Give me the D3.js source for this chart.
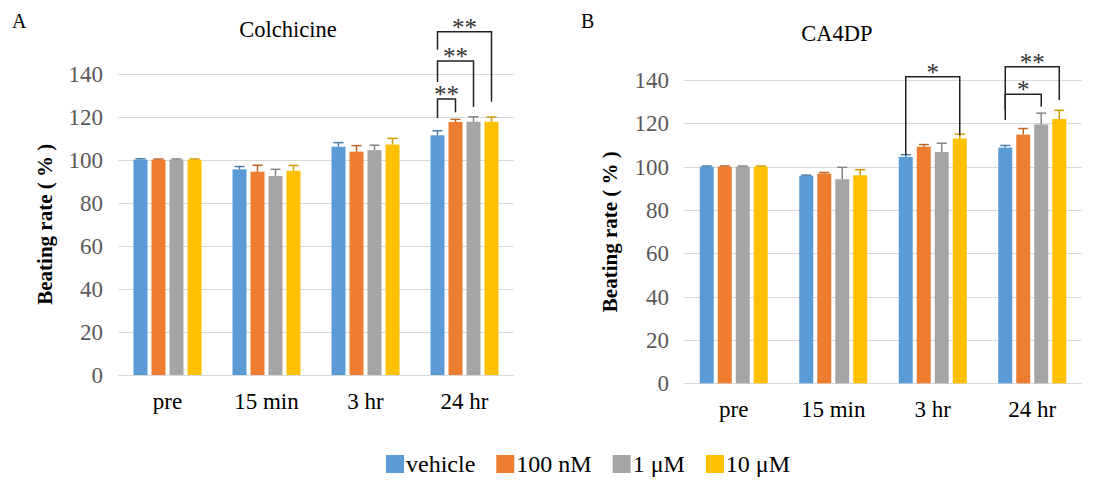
<!DOCTYPE html>
<html>
<head>
<meta charset="utf-8">
<script src="https://cdn.jsdelivr.net/npm/d3@7"></script>
<style>
	html, body { margin: 0; padding: 0; background: #fff; }
	svg text { font-family: 'Liberation Serif', 'DejaVu Serif', serif; }
</style>
</head>
<body>
<div class="chart"></div>
<script>
	// categories / series
	const categories = ['pre', '15 min', '3 hr', '24 hr'];
	const seriesNames = ['vehicle', '100 nM', '1 μM', '10 μM'];
	const colors = ['#5B9BD5', '#ED7D31', '#A5A5A5', '#FFC000'];
	const yTicks = [0, 20, 40, 60, 80, 100, 120, 140];

	// Colchicine (panel A), one row per series
	const colchicineMeans = [
		[100, 95.5, 106, 111.3],
		[100, 94.4, 103.7, 117.5],
		[100, 92.4, 104.4, 117.6],
		[100, 94.8, 107, 117.6],
	];
	const colchicineErrors = [
		[0.4, 1.3, 1.9, 2.1],
		[0.3, 3, 2.8, 1.2],
		[0.3, 3.1, 2.3, 2.3],
		[0.3, 2.5, 2.9, 2.2],
	];
	// [category, from series, to series, left end, top, right end, label]
	const colchicineBrackets = [
		[3, 0, 1, 119.3, 128.2, 122, '**'],
		[3, 0, 2, 136, 145.8, 124.4, '**'],
		[3, 0, 3, 151, 159.4, 126.9, '**'],
	];

	// CA4DP (panel B)
	const ca4dpMeans = [
		[100, 95.8, 104.5, 108.8],
		[100, 96.8, 109.2, 114.8],
		[100, 94.2, 106.8, 119.5],
		[100, 96, 113, 122],
	];
	const ca4dpErrors = [
		[0.3, 0.3, 1, 1],
		[0.3, 0.5, 1, 2.8],
		[0.3, 5.5, 4, 5.2],
		[0.3, 2.6, 2, 4],
	];
	const ca4dpBrackets = [
		[2, 0, 3, 105.4, 141.5, 114.5, '*'],
		[3, 0, 2, 121.5, 133.4, 127.6, '*'],
		[3, 0, 3, 126.1, 146.1, 130.8, '**'],
	];

	const width = 1097;
	const height = 489;
	const serif = "'Liberation Serif', 'DejaVu Serif', serif";

	const svg = d3.select('.chart').append('svg').attr('width', width).attr('height', height)
		.attr('font-family', serif);
	svg.append('rect').attr('width', width).attr('height', height).attr('fill', '#fff');

	function drawPanel(opt) {
		const x0 = d3.scaleBand().domain(categories).range([opt.left, opt.right]);
		const groupW = 68;
		const x1 = d3.scaleBand().domain(seriesNames).range([0, groupW]).paddingInner(4 / 18).paddingOuter(0);
		const y = d3.scaleLinear().domain([0, 140]).range([opt.bottom, opt.top]);
		const g = svg.append('g');
		const off = (x0.bandwidth() - groupW) / 2;
		const barX = (ci, si) => x0(categories[ci]) + off + x1(seriesNames[si]);

		// gridlines
		g.append('g')
			.selectAll('line')
			.data(yTicks)
			.enter()
			.append('line')
			.attr('x1', opt.left)
			.attr('x2', opt.right)
			.attr('y1', d => Math.round(y(d)) + 0.5)
			.attr('y2', d => Math.round(y(d)) + 0.5)
			.attr('stroke', '#D9D9D9')
			.attr('stroke-width', 1);

		// y tick labels
		g.append('g')
			.selectAll('text')
			.data(yTicks)
			.enter()
			.append('text')
			.attr('x', opt.left - 15)
			.attr('y', d => y(d) + 8)
			.attr('text-anchor', 'end')
			.attr('font-family', serif)
			.style('font-size', '23px')
			.attr('fill', '#595959')
			.text(d => d);

		// category labels
		g.append('g')
			.selectAll('text')
			.data(categories)
			.enter()
			.append('text')
			.attr('x', d => x0(d) + x0.bandwidth() / 2)
			.attr('y', opt.bottom + 34)
			.attr('text-anchor', 'middle')
			.attr('font-family', serif)
			.style('font-size', '23px')
			.attr('fill', '#000')
			.text(d => d);

		// bars
		const bars = [];
		opt.means.forEach((row, si) => row.forEach((v, ci) => bars.push({ si, ci, v, e: opt.errors[si][ci] })));
		g.append('g')
			.selectAll('rect')
			.data(bars)
			.enter()
			.append('rect')
			.attr('x', d => barX(d.ci, d.si))
			.attr('width', x1.bandwidth())
			.attr('y', d => y(d.v))
			.attr('height', d => y(0) - y(d.v))
			.attr('fill', d => colors[d.si]);

		// error bars (upper only)
		const err = g.append('g').selectAll('g').data(bars).enter().append('g')
			.attr('stroke', d => d3.color(colors[d.si]).darker(0.6))
			.attr('stroke-width', 1.5);
		err.append('line')
			.attr('x1', d => barX(d.ci, d.si) + x1.bandwidth() / 2)
			.attr('x2', d => barX(d.ci, d.si) + x1.bandwidth() / 2)
			.attr('y1', d => y(d.v))
			.attr('y2', d => y(d.v + d.e));
		err.append('line')
			.attr('x1', d => barX(d.ci, d.si) + x1.bandwidth() / 2 - 5)
			.attr('x2', d => barX(d.ci, d.si) + x1.bandwidth() / 2 + 5)
			.attr('y1', d => y(d.v + d.e))
			.attr('y2', d => y(d.v + d.e));

		// significance brackets
		const br = g.append('g').selectAll('g').data(opt.brackets).enter().append('g');
		br.append('path')
			.attr('fill', 'none')
			.attr('stroke', '#222')
			.attr('stroke-width', 1.5)
			.attr('d', d => {
				const xa = barX(d[0], d[1]) + x1.bandwidth() / 2;
				const xb = barX(d[0], d[2]) + x1.bandwidth() / 2;
				return `M${xa},${y(d[3])}V${y(d[4])}H${xb}V${y(d[5])}`;
			});
		br.append('text')
			.attr('x', d => (barX(d[0], d[1]) + barX(d[0], d[2]) + x1.bandwidth()) / 2)
			.attr('y', d => y(d[4]) + 4)
			.attr('text-anchor', 'middle')
			.attr('font-family', serif)
			.style('font-size', '25px')
			.attr('fill', '#333')
			.text(d => d[6]);

		// axis title
		g.append('text')
			.attr('transform', `translate(${opt.titleX},${(opt.top + opt.bottom) / 2}) rotate(-90)`)
			.attr('text-anchor', 'middle')
			.attr('font-family', serif)
			.style('font-size', '21px')
			.style('font-weight', 'bold')
			.text('Beating rate ( % )');

		// chart title + panel letter
		g.append('text')
			.attr('x', opt.chartTitleX)
			.attr('y', opt.chartTitleY)
			.attr('text-anchor', 'middle')
			.attr('font-family', serif)
			.style('font-size', '22.5px')
			.text(opt.title);
		g.append('text')
			.attr('x', opt.letterX)
			.attr('y', 28)
			.attr('font-family', serif)
			.style('font-size', '20px')
			.text(opt.letter);
	}

	drawPanel({
		left: 118, right: 514, top: 73.5, bottom: 375,
		means: colchicineMeans, errors: colchicineErrors, brackets: colchicineBrackets,
		titleX: 52, title: 'Colchicine', chartTitleX: 288, chartTitleY: 37, letter: 'A', letterX: 12,
	});
	drawPanel({
		left: 684, right: 1082, top: 80, bottom: 383.3,
		means: ca4dpMeans, errors: ca4dpErrors, brackets: ca4dpBrackets,
		titleX: 617, title: 'CA4DP', chartTitleX: 837, chartTitleY: 41, letter: 'B', letterX: 581,
	});

	// legend: items laid out from their measured text widths
	const legend = svg.append('g').selectAll('g').data(seriesNames).enter().append('g');
	legend.append('rect').attr('y', -1).attr('width', 18).attr('height', 18).attr('fill', (d, i) => colors[i]);
	legend.append('text')
		.attr('x', 20)
		.attr('y', 16)
		.attr('font-family', serif)
		.style('font-size', '24px')
		.text(d => d);
	let lx = 386;
	legend.each(function () {
		d3.select(this).attr('transform', `translate(${lx},456)`);
		lx += 20 + d3.select(this).select('text').node().getComputedTextLength() + 21;
	});
</script>
</body>
</html>
